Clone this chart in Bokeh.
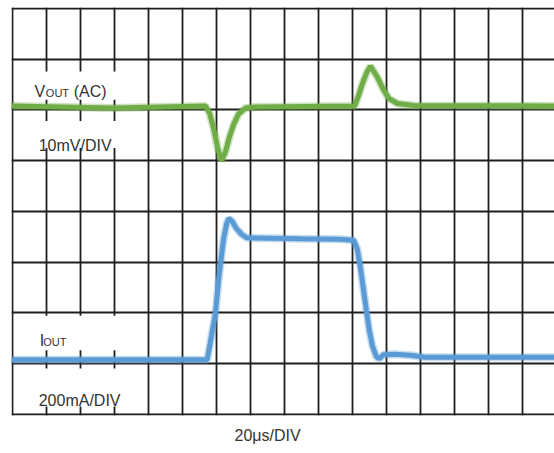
from bokeh.plotting import figure
from bokeh.models import Range1d, Grid, FixedTicker, Label, Title
from bokeh.embed import file_html
from bokeh.resources import INLINE

# ---- data (time in µs, 20 µs/DIV; VOUT in mV AC, 10 mV/DIV; IOUT in mA, 200 mA/DIV) ----
vout_t = [-2, 60, 113.7, 116.1, 118.4, 120.8, 123.1, 125.5, 127.8, 130.2, 133.1, 137.2, 143.1,
          201.4, 203.7, 206.1, 208.4, 210.7, 214.7, 218.6, 221.5, 226.5, 236.1, 320]
vout_mv = [0, -0.4, 0, -1.4, -4.3, -8.2, -10.8, -9.0, -6.1, -3.7, -1.6, -0.4, -0.2,
           0, 2.0, 4.5, 6.5, 7.85, 5.75, 3.1, 1.5, 0.5, 0.1, 0]

iout_t = [-2, 114.7, 116.4, 119.5, 121.8, 124.3, 126.2, 127.4, 129.4, 131.8, 134.9, 138.0,
          169.6, 193.1, 200.9, 203.0, 204.8, 206.6, 208.4, 210.1, 211.9, 214.2, 216.0,
          218.3, 225.4, 234.1, 242.9, 320]
iout_ma = [0, 0, 63, 181, 338, 475, 538, 557, 546, 518, 495, 481,
           477, 475, 471, 436, 365, 279, 192, 114, 55, 12, 4,
           20, 22, 18, 10, 10]

time_div_ticks = [0, 20, 40, 60, 80, 100, 120, 140, 160, 180, 200, 220, 240, 260, 280, 300, 320]
vert_div_ticks = [0, 1, 2, 3, 4, 5, 6, 7, 8]

vout_label_main = "V"
vout_label_sub = "OUT"
vout_label_tail = "(AC)"
vout_scale_label = "10mV/DIV"
iout_label_main = "I"
iout_label_sub = "OUT"
iout_scale_label = "200mA/DIV"
time_scale_label = "20μs/DIV"

# white label backgrounds (in µs / divisions) that interrupt the grid
mask_left = [5, 5, 5, 5]
mask_right = [64, 64, 64, 64]
mask_bottom = [6.20, 5.25, 1.26, 0.15]
mask_top = [6.76, 5.78, 1.94, 0.90]

FONT = "Liberation Sans"
TXT = "#333333"
GREEN = "#70AD47"
BLUE = "#5B9BD5"

p = figure(width=554, height=453, output_backend="svg", toolbar_location=None,
           x_axis_type=None, y_axis_type=None,
           x_range=Range1d(-0.41, 319.0), y_range=Range1d(-0.026, 8.02),
           min_border_left=11, min_border_right=0, min_border_top=7, min_border_bottom=36,
           outline_line_color=None, background_fill_color="white", border_fill_color="white")

p.extra_y_ranges = {
    "vout": Range1d(-61.03, 19.43),
    "iout": Range1d(-219.8, 1389.4),
}

p.add_layout(Grid(dimension=0, ticker=FixedTicker(ticks=time_div_ticks),
                  grid_line_color="#1e1e1e", grid_line_width=1.8))
p.add_layout(Grid(dimension=1, ticker=FixedTicker(ticks=vert_div_ticks),
                  grid_line_color="#1e1e1e", grid_line_width=1.8))

p.quad(left=mask_left, right=mask_right, bottom=mask_bottom, top=mask_top,
       fill_color="white", fill_alpha=1.0, line_color=None)

# traces
p.line(vout_t, vout_mv, y_range_name="vout", line_color=GREEN, line_width=8, line_alpha=0.35)
p.line(vout_t, vout_mv, y_range_name="vout", line_color=GREEN, line_width=5)
p.line(iout_t, iout_ma, y_range_name="iout", line_color=BLUE, line_width=8, line_alpha=0.35)
p.line(iout_t, iout_ma, y_range_name="iout", line_color=BLUE, line_width=5)


def lab(text, x, y, size, align="left"):
    p.add_layout(Label(x=x, y=y, text=text, text_font=FONT, text_font_size=f"{size}px",
                       text_color=TXT, text_baseline="alphabetic", text_align=align))


lab(vout_label_main, 13.1, 6.358, 16)
lab(vout_label_sub, 19.8, 6.332, 11)
lab(vout_label_tail, 36.2, 6.358, 16)
lab(vout_scale_label, 15.6, 5.292, 16)
lab(iout_label_main, 16.2, 1.452, 16)
lab(iout_label_sub, 18.2, 1.421, 11)
lab(iout_scale_label, 15.6, 0.263, 16)

p.add_layout(Title(text=time_scale_label, align="left", offset=223, standoff=19,
                   text_font=FONT, text_font_size="16px", text_font_style="normal",
                   text_color=TXT), "below")

open("out.html", "w").write(file_html(p, INLINE))
